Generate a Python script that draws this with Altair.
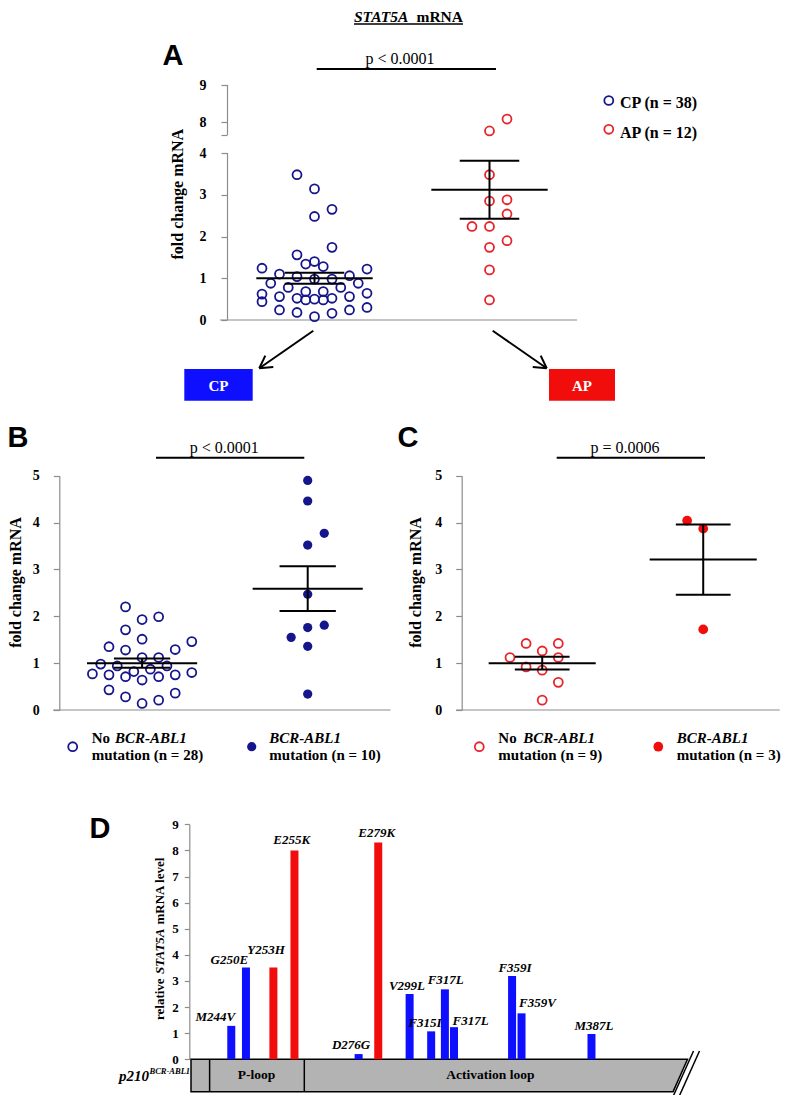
import altair as alt
import pandas as pd

# ---------------- Panel A: STAT5A mRNA fold change, CP vs AP ----------------
cp_values = [3.48, 3.14, 2.48, 2.65, 1.74, 1.56, 1.34, 1.40, 1.28, 1.24,
             1.22, 1.10, 1.04, 1.06, 0.98, 0.98, 0.88, 0.88, 0.78, 0.78,
             0.68, 0.68, 0.62, 0.64, 0.56, 0.56, 0.52, 0.52, 0.48, 0.50,
             0.48, 0.44, 0.24, 0.24, 0.18, 0.16, 0.08, 0.30]
cp_slots = [-2, 0, 0, 2, 2, -2, -1, 0, 1, -6,
            6, -4, -2, 4, 0, 2, -5, 5, -3, 3,
            -1, 1, -6, 6, -4, 4, -2, 2, -1, 0,
            1, -6, -4, 4, -2, 2, 0, 6]
ap_values = [8.08, 7.76, 3.48, 2.85, 2.88, 2.54, 2.24, 2.24, 1.90, 1.74, 1.20, 0.48]
ap_slots = [2, 0, 0, 0, 2, 2, -2, 0, 2, 0, 0, 0]
a_means = [1.00, 3.12]
a_sems = [0.13, 0.695]

# ---------------- Panel B: CP, no mutation vs BCR-ABL1 mutation ----------------
b_no_values = [2.20, 1.93, 1.99, 1.71, 1.51, 1.35, 1.28, 1.29, 1.46, 1.12,
               1.12, 0.98, 0.94, 0.94, 0.82, 0.87, 0.77, 0.75, 0.71, 0.71,
               0.75, 0.80, 0.64, 0.43, 0.36, 0.28, 0.21, 0.14]
b_no_slots = [-2, 0, 2, -2, 0, -4, -2, 4, 6, 0,
              2, -5, -3, 3, -1, 1, -6, -4, -2, 2,
              4, 6, 0, -4, 4, -2, 2, 0]
b_mut_values = [4.90, 4.46, 3.77, 3.52, 2.47, 1.81, 1.76, 1.55, 1.36, 0.34]
b_mut_slots = [0, 0, 2, 0, 0, 2, 0, -2, 0, 0]
b_means = [1.00, 2.59]
b_sems = [0.10, 0.475]

# ---------------- Panel C: AP, no mutation vs BCR-ABL1 mutation ----------------
c_no_values = [1.42, 1.42, 1.26, 1.12, 1.12, 0.92, 0.85, 0.59, 0.21]
c_no_slots = [-2, 2, 0, -4, 2, -2, 0, 2, 0]
c_mut_values = [4.04, 3.87, 1.72]
c_mut_slots = [-2, 0, 0]
c_means = [1.00, 3.21]
c_sems = [0.135, 0.75]

# ---------------- Panel D: relative STAT5A level per mutation ----------------
d_mutations = ["M244V", "G250E", "Y253H", "E255K", "D276G", "E279K", "V299L",
               "F315I", "F317L", "F317L", "F359I", "F359V", "M387L"]
d_levels = [1.28, 3.52, 3.52, 8.00, 0.20, 8.30, 2.50, 1.07, 2.68, 1.23, 3.19, 1.76, 0.97]
d_phase = ["CP", "CP", "AP", "AP", "CP", "AP", "CP", "CP", "CP", "CP", "CP", "CP", "CP"]
d_site = [7.25, 10.27, 15.91, 20.24, 33.43, 37.46, 43.91, 48.34, 51.16, 53.03, 64.97, 66.91, 81.29]
d_label_x = [4.91, 7.71, 15.11, 20.30, 32.23, 37.42, 43.50, 47.13, 51.30, 56.33, 65.26, 69.79, 81.17]
d_label_y = [1.63, 3.80, 4.19, 8.38, 0.55, 8.68, 2.81, 1.40, 3.04, 1.47, 3.51, 2.15, 1.29]
d_regions = ["P-loop", "Activation loop"]
d_region_mid = [13.2, 60.3]
d_region_bounds = [3.75, 22.82]
d_protein_top = 0.0
d_protein_bottom = -1.24
d_protein_end_top = 100.0
d_protein_end_bottom = 97.1

# ---------------- styling ----------------
SERIF = "Liberation Serif"
SANS = "Liberation Sans"
NAVY = "#16168c"
RED_O = "#e8242b"
RED = "#f20d0d"
BLUE = "#0f0fff"
GRAY = "#8c8c8c"
M = 8  # page margin


def px(v):
    return v - M


def lin(domain, prange):
    return alt.Scale(domain=domain, range=[px(p) for p in prange])


xA = lin([0, 4], [227, 577])
yA = lin([0, 4, 7.65, 9], [320, 153, 135, 85])
xB = lin([0, 4], [59.3, 390.5])
yB = lin([0, 5], [710, 475.7])
xC = lin([0, 3.95], [461.7, 779.7])
yC = lin([0, 5], [710, 475.7])
xD = lin([0, 100], [191, 687.5])
yD = lin([0, 9], [1059.3, 824.3])


def yaxis(xpage, values, pad, size=14, tick=6, domain=True, expr=None):
    kw = dict(orient="left", offset=-px(xpage), values=values, title=None, grid=False,
              domain=domain, domainColor=GRAY, domainWidth=1.2, ticks=True,
              tickColor=GRAY, tickWidth=1.2, tickSize=tick,
              labelFont=SERIF, labelFontSize=size, labelFontWeight="bold",
              labelColor="black", labelPadding=pad, labelOverlap=False,
              labelFlush=False, labelBound=False)
    if expr:
        kw["labelExpr"] = expr
    return alt.Axis(**kw)


def dots(values, slots, center, xs, ys, color, filled, size=80, axis=None):
    df = pd.DataFrame({"v": values, "slot": slots})
    df["x"] = center + df["slot"] * 0.1
    if filled:
        ch = alt.Chart(df).mark_point(shape="circle", filled=True, color=color,
                                      size=size, opacity=1)
    else:
        ch = alt.Chart(df).mark_point(shape="circle", filled=False, color=color,
                                      size=size, strokeWidth=1.8, opacity=1)
    return ch.encode(x=alt.X("x:Q", scale=xs, axis=None),
                     y=alt.Y("v:Q", scale=ys, axis=axis))


def meanbars(means, sems, xs, ys):
    df = pd.DataFrame({"c": [1, 3], "m": means, "s": sems})
    base = alt.Chart(df).transform_calculate(
        ml="datum.c - 0.665", mr="datum.c + 0.665",
        cl="datum.c - 0.34", cr="datum.c + 0.34",
        lo="datum.m - datum.s", hi="datum.m + datum.s")
    mk = dict(color="black", strokeWidth=2)
    out = [
        base.mark_rule(**mk).encode(x=alt.X("ml:Q", scale=xs, axis=None), x2="mr:Q",
                                    y=alt.Y("m:Q", scale=ys, axis=None)),
        base.mark_rule(**mk).encode(x=alt.X("cl:Q", scale=xs, axis=None), x2="cr:Q",
                                    y=alt.Y("hi:Q", scale=ys, axis=None)),
        base.mark_rule(**mk).encode(x=alt.X("cl:Q", scale=xs, axis=None), x2="cr:Q",
                                    y=alt.Y("lo:Q", scale=ys, axis=None)),
        base.mark_rule(**mk).encode(x=alt.X("c:Q", scale=xs, axis=None),
                                    y=alt.Y("lo:Q", scale=ys, axis=None), y2="hi:Q"),
    ]
    return out


def xbase(x0, x1, xs, ys):
    df = pd.DataFrame({"a": [x0], "b": [x1], "y": [0]})
    return alt.Chart(df).mark_rule(color=GRAY, strokeWidth=1.2).encode(
        x=alt.X("a:Q", scale=xs, axis=None), x2="b:Q",
        y=alt.Y("y:Q", scale=ys, axis=None))


def texts(rows, size, weight="bold", style="normal", font=SERIF, color="black",
          align="center", baseline="alphabetic", angle=0):
    df = pd.DataFrame(rows, columns=["t", "x", "y"])
    df["x"] = df["x"] - M
    df["y"] = df["y"] - M
    kw = dict(font=font, fontSize=size, fontWeight=weight, fontStyle=style,
              color=color, align=align, baseline=baseline)
    if angle:
        kw["angle"] = angle
    return alt.Chart(df).mark_text(**kw).encode(
        x=alt.X("x:Q", scale=None, axis=None),
        y=alt.Y("y:Q", scale=None, axis=None),
        text="t:N")


def segments(rows, width=2, color="black"):
    df = pd.DataFrame(rows, columns=["x", "y", "x2", "y2"]) - M
    return alt.Chart(df).mark_rule(color=color, strokeWidth=width).encode(
        x=alt.X("x:Q", scale=None, axis=None), y=alt.Y("y:Q", scale=None, axis=None),
        x2="x2:Q", y2="y2:Q")


def legend_dot(xp, yp, color, filled, size=80):
    df = pd.DataFrame({"x": [px(xp)], "y": [px(yp)]})
    if filled:
        ch = alt.Chart(df).mark_point(shape="circle", filled=True, color=color, size=size, opacity=1)
    else:
        ch = alt.Chart(df).mark_point(shape="circle", filled=False, color=color, size=size,
                                      strokeWidth=1.8, opacity=1)
    return ch.encode(x=alt.X("x:Q", scale=None, axis=None), y=alt.Y("y:Q", scale=None, axis=None))


layers = []

# ---- Panel A ----
a_axis_segments = pd.DataFrame({"y1": [0, 7.65], "y2": [4, 9]})
layers.append(alt.Chart(a_axis_segments).mark_rule(color=GRAY, strokeWidth=1.2).encode(
    x=alt.value(px(227) + 0.5), y=alt.Y("y1:Q", scale=yA, axis=None), y2="y2:Q"))
layers.append(xbase(-0.08, 4.0, xA, yA))
layers.append(dots(cp_values, cp_slots, 1, xA, yA, NAVY, False,
                   axis=yaxis(227, [0, 1, 2, 3, 4, 7.65, 8, 9], 15, domain=False,
                              expr="datum.value == 7.65 ? '' : datum.label")))
layers.append(dots(ap_values, ap_slots, 3, xA, yA, RED_O, False))
layers += meanbars(a_means, a_sems, xA, yA)

# ---- Panel B ----
layers.append(xbase(-0.075, 4.0, xB, yB))
layers.append(dots(b_no_values, b_no_slots, 1, xB, yB, NAVY, False,
                   axis=yaxis(59.3, [0, 1, 2, 3, 4, 5], 14)))
layers.append(dots(b_mut_values, b_mut_slots, 3, xB, yB, NAVY, True, size=85))
layers += meanbars(b_means, b_sems, xB, yB)

# ---- Panel C ----
layers.append(xbase(-0.07, 3.95, xC, yC))
layers.append(dots(c_no_values, c_no_slots, 1, xC, yC, RED_O, False,
                   axis=yaxis(461.7, [0, 1, 2, 3, 4, 5], 14)))
layers.append(dots(c_mut_values, c_mut_slots, 3, xC, yC, RED, True, size=95))
layers += meanbars(c_means, c_sems, xC, yC)

# ---- Panel D ----
dfD = pd.DataFrame({"mut": d_mutations, "lvl": d_levels, "phase": d_phase,
                    "site": d_site, "lx": d_label_x, "ly": d_label_y})
dfD["z"] = 0.0
prot = pd.DataFrame({"yy": [d_protein_top, d_protein_bottom], "xa": [0.0, 0.0],
                     "xb": [d_protein_end_top, d_protein_end_bottom]})
layers.append(alt.Chart(prot).mark_area(orient="horizontal", color="#b3b3b3", stroke="black",
                                        strokeWidth=1.5, opacity=1).encode(
    y=alt.Y("yy:Q", scale=yD, axis=None),
    x=alt.X("xa:Q", scale=xD, axis=None, stack=None), x2="xb:Q"))
divs = pd.DataFrame({"x": d_region_bounds, "y1": [d_protein_top] * 2, "y2": [d_protein_bottom] * 2})
layers.append(alt.Chart(divs).mark_rule(color="black", strokeWidth=1.5).encode(
    x=alt.X("x:Q", scale=xD, axis=None), y=alt.Y("y1:Q", scale=yD, axis=None), y2="y2:Q"))
regs = pd.DataFrame({"name": d_regions, "x": d_region_mid, "y": [(d_protein_top + d_protein_bottom) / 2] * 2})
layers.append(alt.Chart(regs).mark_text(font=SERIF, fontSize=13.5, fontWeight="bold",
                                        baseline="middle", color="black").encode(
    x=alt.X("x:Q", scale=xD, axis=None), y=alt.Y("y:Q", scale=yD, axis=None), text="name:N"))
layers.append(alt.Chart(dfD).mark_bar(size=8).encode(
    x=alt.X("site:Q", scale=xD, axis=None),
    y=alt.Y("lvl:Q", scale=yD, axis=yaxis(189.3, list(range(10)), 6, size=13, tick=5)),
    y2="z:Q",
    color=alt.Color("phase:N", scale=alt.Scale(domain=["CP", "AP"], range=[BLUE, RED]), legend=None)))
layers.append(alt.Chart(dfD).mark_text(font=SERIF, fontSize=13, fontWeight="bold", fontStyle="italic",
                                       baseline="middle", color="black").encode(
    x=alt.X("lx:Q", scale=xD, axis=None), y=alt.Y("ly:Q", scale=yD, axis=None), text="mut:N"))

# ---- annotations ----
layers.append(segments([
    (316.7, 69, 496, 69), (156, 457.7, 304.3, 457.7), (556.7, 457.7, 705, 457.7),
    (313.3, 330.7, 259.3, 368.3), (259.3, 368.3, 273.3, 367.1), (259.3, 368.3, 265.3, 355.6),
    (492.7, 330.7, 546.7, 368.3), (546.7, 368.3, 532.7, 367.1), (546.7, 368.3, 540.7, 355.6),
]))
layers.append(segments([(354, 24, 463, 24)], width=1.3))
layers.append(segments([(671.5, 1100, 693.5, 1051), (677.5, 1100, 699.5, 1051)], width=1.5))

boxes = pd.DataFrame({"x": [184.3, 549], "x2": [252.7, 615], "y": [369, 369],
                      "y2": [400.7, 400.7], "col": [BLUE, RED]})
for c in ["x", "x2", "y", "y2"]:
    boxes[c] = boxes[c] - M
layers.append(alt.Chart(boxes).mark_rect().encode(
    x=alt.X("x:Q", scale=None, axis=None), x2="x2:Q",
    y=alt.Y("y:Q", scale=None, axis=None), y2="y2:Q",
    color=alt.Color("col:N", scale=None)))
layers.append(texts([("CP", 218.5, 390.7), ("AP", 582, 390.7)], 15, color="white"))

# title
layers.append(texts([("STAT5A", 354, 22)], 15.5, style="italic", align="left"))
layers.append(texts([("mRNA", 416.5, 22)], 15.5, align="left"))

# panel letters
layers.append(texts([("A", 173, 65), ("B", 18, 446.7), ("C", 408, 447), ("D", 100, 838)],
                    29, font=SANS))

# p values
layers.append(texts([("p < 0.0001", 400, 64), ("p < 0.0001", 224.2, 452.7),
                     ("p = 0.0006", 625, 452.7)], 16, weight="normal"))

# y axis titles
layers.append(texts([("fold change mRNA", 178.3, 194.2), ("fold change mRNA", 16, 582.5),
                     ("fold change mRNA", 416, 582.5)], 16, baseline="middle", angle=270))
layers.append(texts([("relative", 159.5, 1020), ("mRNA level", 159.5, 924.5)], 13,
                    align="left", baseline="middle", angle=270))
layers.append(texts([("STAT5A", 159.5, 974)], 13, style="italic",
                    align="left", baseline="middle", angle=270))

# p210 label
layers.append(texts([("p210", 149, 1081)], 15, style="italic", align="right"))
layers.append(texts([("BCR-ABL1", 149.5, 1074)], 8.5, style="italic", align="left"))

# legend A
layers.append(legend_dot(608.8, 100.5, NAVY, False))
layers.append(legend_dot(608.8, 129.3, RED_O, False))
layers.append(texts([("CP (n = 38)", 620, 108.3), ("AP (n = 12)", 620, 138)], 16, align="left"))

# legend B and C
layers.append(legend_dot(72.7, 746.7, NAVY, False))
layers.append(legend_dot(251.7, 746.7, NAVY, True, size=85))
layers.append(legend_dot(479.3, 746.7, RED_O, False))
layers.append(legend_dot(658.3, 746.7, RED, True, size=95))
layers.append(texts([("No", 91.7, 743.3), ("No", 498.3, 743.3),
                     ("mutation (n = 28)", 91.7, 760.3), ("mutation (n = 10)", 269.3, 760.3),
                     ("mutation (n = 9)", 498.3, 760.3), ("mutation (n = 3)", 676.7, 760.3)],
                    15, align="left"))
layers.append(texts([("BCR-ABL1", 115, 743.3), ("BCR-ABL1", 269.3, 743.3),
                     ("BCR-ABL1", 523.3, 743.3), ("BCR-ABL1", 676.7, 743.3)],
                    15, style="italic", align="left"))

chart = alt.layer(*layers).resolve_scale(
    x="independent", y="independent"
).properties(
    width=776, height=1087, padding=0,
    autosize=alt.AutoSizeParams(type="none")
).configure_view(stroke=None)

chart.save("out.html", embed_options={"renderer": "svg", "actions": False})
